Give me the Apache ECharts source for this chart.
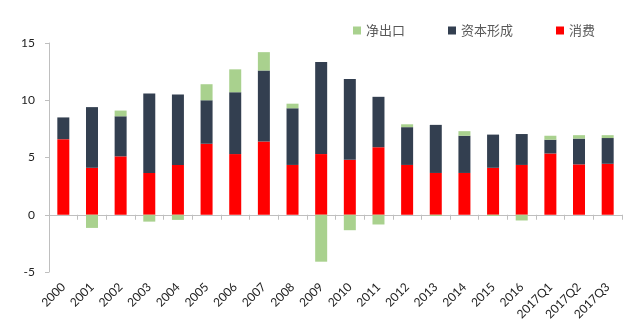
<!DOCTYPE html>
<html>
<head>
<meta charset="utf-8">
<script src="https://cdn.jsdelivr.net/npm/echarts@6/dist/echarts.min.js"></script>
<style>
  html, body { margin: 0; padding: 0; background: #fff; }
  #chart { width: 640px; height: 329px; }
</style>
</head>
<body>
<div id="chart"></div>
<script>
// GDP growth contributions by component (percentage points)
const categories = ['2000','2001','2002','2003','2004','2005','2006','2007','2008','2009','2010','2011','2012','2013','2014','2015','2016','2017Q1','2017Q2','2017Q3'];
const consumption = [6.6, 4.1, 5.1, 3.65, 4.35, 6.2, 5.3, 6.4, 4.35, 5.3, 4.8, 5.9, 4.35, 3.65, 3.65, 4.1, 4.35, 5.35, 4.4, 4.45];
const capital = [1.9, 5.3, 3.5, 6.95, 6.15, 3.8, 5.4, 6.2, 4.95, 8.05, 7.05, 4.4, 3.3, 4.2, 3.25, 2.9, 2.7, 1.2, 2.25, 2.25];
const netExports = [0, -1.15, 0.5, -0.6, -0.45, 1.4, 2.0, 1.6, 0.4, -4.1, -1.35, -0.85, 0.25, -0.1, 0.4, -0.1, -0.5, 0.35, 0.3, 0.25];
const yTicks = [-5, 0, 5, 10, 15];

const COLORS = { net: '#A9D18E', capital: '#333F50', consumption: '#FF0000' };
const textFont = 'Lato, "Open Sans", sans-serif';

const chart = echarts.init(document.getElementById('chart'), null, { renderer: 'canvas' });

function barSeries(name, data, color) {
  return {
    name: name,
    type: 'bar',
    stack: 'gdp',
    data: data,
    barWidth: 12,
    itemStyle: { color: color },
    emphasis: { disabled: true }
  };
}

chart.setOption({
  animation: false,
  backgroundColor: '#fff',
  legend: {
    top: 19,
    left: 348,
    itemWidth: 8,
    itemHeight: 8,
    itemGap: 43,
    icon: 'rect',
    textStyle: { fontFamily: '"Noto Sans CJK SC", sans-serif', fontSize: 13, color: '#595959' },
    data: ['净出口', '资本形成', '消费']
  },
  grid: { left: 49, right: 18, top: 43, bottom: 57, containLabel: false, outerBoundsMode: 'none' },
  xAxis: {
    type: 'category',
    data: categories,
    boundaryGap: true,
    axisLine: { onZero: true, lineStyle: { color: '#BFBFBF' } },
    axisTick: { show: true, alignWithLabel: false, length: 5, lineStyle: { color: '#BFBFBF' } },
    axisLabel: {
      interval: 0,
      rotate: 45,
      fontFamily: textFont,
      fontSize: 12,
      color: '#222',
      margin: 13
    }
  },
  yAxis: {
    type: 'value',
    min: yTicks[0],
    max: yTicks[yTicks.length - 1],
    interval: 5,
    axisLine: { show: true, lineStyle: { color: '#BFBFBF' } },
    axisTick: { show: true, length: 4, lineStyle: { color: '#BFBFBF' } },
    splitLine: { show: false },
    axisLabel: { fontFamily: textFont, fontSize: 12, color: '#222', margin: 14 }
  },
  series: [
    barSeries('消费', consumption, COLORS.consumption),
    barSeries('资本形成', capital, COLORS.capital),
    barSeries('净出口', netExports, COLORS.net)
  ]
});
</script>
</body>
</html>
